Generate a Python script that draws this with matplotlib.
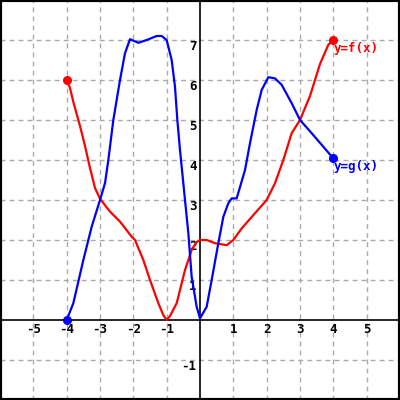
import matplotlib
matplotlib.use("Agg")
import matplotlib.pyplot as plt
from matplotlib.patches import Rectangle

# f(x) readings (red)
f_x = [-4, -3.9, -3.8, -3.6, -3.45, -3.3, -3.15, -3.0, -2.7, -2.4, -2.05, -1.95,
       -1.7, -1.5, -1.25, -1.1, -1.0, -0.9, -0.7, -0.45, -0.25, -0.1, 0, 0.2, 0.45,
       0.8, 1.0, 1.25, 1.65, 2.0, 2.25, 2.5, 2.75, 3.0, 3.3, 3.6, 3.85, 4.0]
f_y = [6.0, 5.8, 5.45, 4.85, 4.35, 3.8, 3.3, 3.03, 2.71, 2.46, 2.08, 2.0,
       1.5, 1.0, 0.42, 0.12, 0.0, 0.1, 0.42, 1.25, 1.75, 1.95, 2.0, 2.0, 1.92,
       1.87, 2.0, 2.29, 2.67, 3.0, 3.42, 4.0, 4.67, 5.0, 5.6, 6.4, 6.88, 7.0]

# g(x) readings (blue)
g_x = [-4, -3.8, -3.5, -3.25, -3.0, -2.85, -2.75, -2.6, -2.4, -2.25, -2.1, -1.85,
       -1.6, -1.3, -1.15, -1.0, -0.85, -0.75, -0.68, -0.6, -0.45, -0.35, -0.25,
       -0.1, 0, 0.2, 0.35, 0.55, 0.7, 0.85, 0.95, 1.1, 1.35, 1.5, 1.7, 1.85, 2.05,
       2.25, 2.45, 2.75, 3.0, 3.35, 3.65, 4.0]
g_y = [0.0, 0.42, 1.5, 2.33, 3.0, 3.42, 4.0, 5.0, 6.0, 6.67, 7.02, 6.93,
       7.0, 7.1, 7.1, 7.0, 6.5, 5.83, 5.0, 4.25, 3.0, 2.17, 1.08,
       0.33, 0.04, 0.33, 1.0, 1.92, 2.58, 2.92, 3.04, 3.04, 3.75, 4.42, 5.25, 5.75, 6.07,
       6.04, 5.88, 5.42, 5.0, 4.67, 4.38, 4.04]

x_ticks = [-5, -4, -3, -2, -1, 1, 2, 3, 4, 5]
y_ticks = [-1, 1, 2, 3, 4, 5, 6, 7]
x_labels = ["-5", "-4", "-3", "-2", "-1", "1", "2", "3", "4", "5"]
y_labels = ["-1", "1", "2", "3", "4", "5", "6", "7"]

font = {"family": "DejaVu Sans Mono", "weight": "bold", "size": 9}

fig = plt.figure(figsize=(4, 4), dpi=100)
ax = fig.add_axes([0, 0, 1, 1])
ax.set_xlim(-6, 6)
ax.set_ylim(-2, 8)

ax.spines["left"].set_position(("data", 0))
ax.spines["bottom"].set_position(("data", 0))
ax.spines["top"].set_visible(False)
ax.spines["right"].set_visible(False)
for s in ("left", "bottom"):
    ax.spines[s].set_linewidth(1.2)
    ax.spines[s].set_color("black")
    ax.spines[s].set_zorder(1.5)

ax.set_xticks(x_ticks)
ax.set_xticklabels(x_labels, fontdict=font)
ax.set_yticks(y_ticks)
ax.set_yticklabels(y_labels, fontdict=font)
ax.tick_params(axis="both", length=0)
ax.tick_params(axis="x", pad=2.5)
ax.tick_params(axis="y", pad=2.5)
for lab in ax.get_yticklabels():
    lab.set_va("top")

ax.grid(True, color="#aaaaaa", linestyle=(0, (3.5, 3)), linewidth=1.0)
ax.set_axisbelow(True)

ax.plot(f_x, f_y, color="#ff0000", lw=1.6, zorder=3)
ax.plot(g_x, g_y, color="#0000ff", lw=1.6, zorder=3)
ax.plot([f_x[0], f_x[-1]], [f_y[0], f_y[-1]], "o", color="#ff0000", ms=5.5, zorder=4)
ax.plot([g_x[0], g_x[-1]], [g_y[0], g_y[-1]], "o", color="#0000ff", ms=5.5, zorder=4)

ax.text(f_x[-1], f_y[-1] - 0.05, "y=f(x)", color="#ff0000", ha="left", va="top",
        fontdict=font)
ax.text(g_x[-1], g_y[-1] - 0.05, "y=g(x)", color="#0000ff", ha="left", va="top",
        fontdict=font)

fig.patches.append(Rectangle((0, 0), 1, 1, transform=fig.transFigure, fill=False,
                             ec="black", lw=3))

fig.savefig("out.png", dpi=100)
